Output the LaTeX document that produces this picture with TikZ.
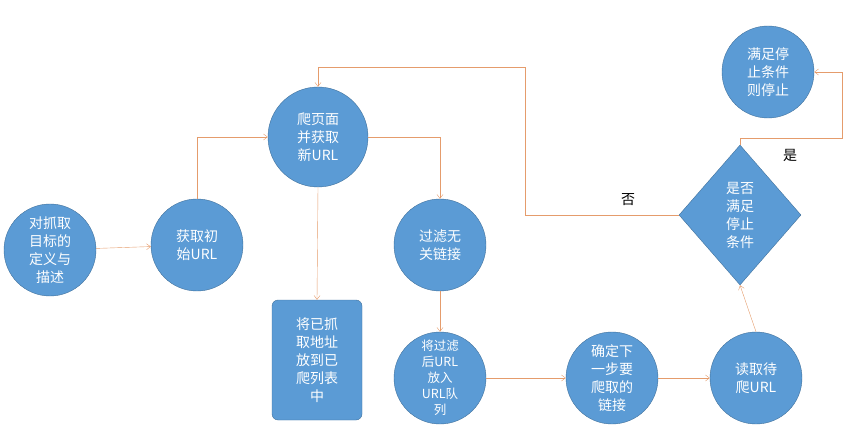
\documentclass[tikz,border=0pt]{standalone}
\usepackage{fontspec}
\setmainfont{Noto Sans CJK SC}
\usetikzlibrary{shapes.geometric,arrows.meta}
\definecolor{stepblue}{HTML}{5B9BD5}
\definecolor{stepedge}{HTML}{41719C}
\definecolor{flowline}{HTML}{E59C6C}
\tikzset{
  stepcirc/.style={circle,fill=stepblue,draw=stepedge,minimum size=92pt,inner sep=0pt,
    text=white,align=center,font=\fontsize{14}{18}\selectfont},
  stepbox/.style={rectangle,rounded corners=6pt,fill=stepblue,draw=stepedge,minimum width=90pt,
    minimum height=120pt,text=white,align=center,font=\fontsize{14}{18}\selectfont},
  stepdiam/.style={diamond,fill=stepblue,draw=stepedge,minimum width=122pt,minimum height=140pt,
    inner sep=0pt,text=white,align=center,font=\fontsize{14}{18}\selectfont},
  flow/.style={draw=flowline,-{Straight Barb[length=4pt,width=6pt]}},
}
\begin{document}
\begin{tikzpicture}[x=1pt,y=-1pt]
  \useasboundingbox (0,0) rectangle (859,438);
  % nodes
  \node[stepcirc] (define) at (50,250) {对抓取\\目标的\\定义与\\描述};
  \node[stepcirc] (init) at (197,245) {获取初\\始URL};
  \node[stepcirc,minimum size=100pt] (crawl) at (318,137) {爬页面\\并获取\\新URL};
  \node[stepcirc] (filter) at (440,245) {过滤无\\关链接};
  \node[stepbox] (visited) at (317,360) {将已抓\\取地址\\放到已\\爬列表\\中};
  \node[stepcirc,font=\fontsize{12.5}{16}\selectfont] (queue) at (440,378) {将过滤\\后URL\\放入\\URL队\\列};
  \node[stepcirc] (next) at (612,378) {确定下\\一步要\\爬取的\\链接};
  \node[stepcirc] (read) at (756,378) {读取待\\爬URL};
  \node[stepdiam] (check) at (740,215) {是否\\满足\\停止\\条件};
  \node[stepcirc] (stop) at (768,72) {满足停\\止条件\\则停止};
  % connectors
  \draw[flow] (define) -- (init);
  \draw[flow] (init.north) |- (crawl.west);
  \draw[flow] (crawl.east) -| (filter.north);
  \draw[flow] (crawl.south) -- (visited.north);
  \draw[flow] (filter.south) -- (queue.north);
  \draw[flow] (queue) -- (next);
  \draw[flow] (next) -- (read);
  \draw[flow] (read.north) -- (check.south);
  \draw[flow] (check.west) -- (525,215) -- (525,67) -| (crawl.north);
  \draw[flow] (check.north) -- (740,138) -- (842,138) |- (stop.east);
  % labels
  \node[font=\fontsize{14}{16}\selectfont] (no) at (628,200) {否};
  \node[font=\fontsize{14}{16}\selectfont] (yes) at (790,155) {是};
\end{tikzpicture}
\end{document}
